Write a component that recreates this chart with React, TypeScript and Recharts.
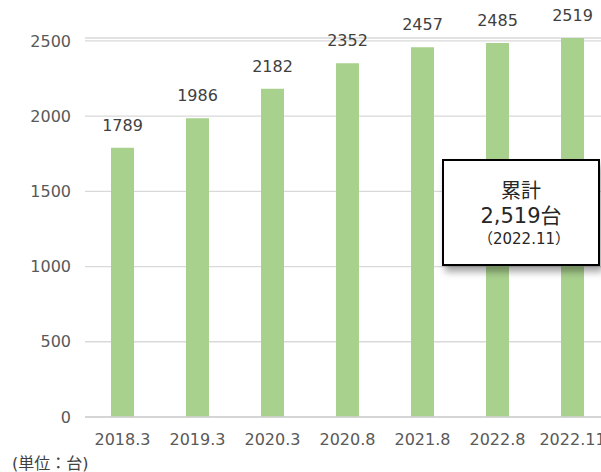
import { BarChart, Bar, XAxis, YAxis, CartesianGrid, LabelList } from 'recharts';

const PERIODS = ['2018.3', '2019.3', '2020.3', '2020.8', '2021.8', '2022.8', '2022.11'];
const UNITS = [1789, 1986, 2182, 2352, 2457, 2485, 2519];
const Y_TICKS = [0, 500, 1000, 1500, 2000, 2500];

const FONT = '"DejaVu Sans", "Noto Sans CJK JP", sans-serif';

export default function App() {
  const data = PERIODS.map((p, i) => ({ name: p, value: UNITS[i] }));

  return (
    <div
      style={{
        position: 'absolute',
        left: 0,
        top: 0,
        width: 601,
        height: 472,
        overflow: 'hidden',
        background: '#fff',
        fontFamily: FONT,
      }}
    >
      <BarChart
        width={610}
        height={472}
        data={data}
        margin={{ top: 38, right: 0, bottom: 0, left: 0 }}
      >
        <CartesianGrid vertical={false} stroke="#d9d9d9" strokeWidth={1.3} />
        <XAxis
          dataKey="name"
          height={55}
          axisLine={{ stroke: '#d0d0d0', strokeWidth: 1.5 }}
          tickLine={false}
          tickSize={0}
          tickMargin={17}
          tick={{ fill: '#595959', fontSize: 16, fontFamily: FONT }}
          interval={0}
        />
        <YAxis
          width={85}
          domain={[0, 2500]}
          ticks={Y_TICKS}
          axisLine={false}
          tickLine={false}
          tickSize={0}
          tickMargin={14}
          tick={{ fill: '#595959', fontSize: 16, fontFamily: FONT }}
        />
        <Bar dataKey="value" fill="#a9d18e" barSize={23} isAnimationActive={false}>
          <LabelList
            dataKey="value"
            position="top"
            offset={17}
            style={{ fill: '#404040', fontSize: 16, fontFamily: FONT }}
          />
        </Bar>
      </BarChart>

      <div
        style={{
          position: 'absolute',
          left: 12,
          top: 450,
          fontSize: 16,
          color: '#404040',
          whiteSpace: 'nowrap',
        }}
      >
        (単位：台)
      </div>

      <div
        style={{
          position: 'absolute',
          left: 442,
          top: 159,
          width: 158,
          height: 107,
          boxSizing: 'border-box',
          border: '2px solid #000',
          background: '#fff',
          boxShadow: '3px 6px 7px rgba(0,0,0,0.35)',
          textAlign: 'center',
          color: '#262626',
          paddingTop: 18,
        }}
      >
        <div style={{ fontSize: 20, lineHeight: '24px' }}>累計</div>
        <div style={{ fontSize: 21, lineHeight: '26px' }}>2,519台</div>
        <div style={{ fontSize: 15, lineHeight: '20px', paddingLeft: 6 }}>（2022.11）</div>
      </div>
    </div>
  );
}
